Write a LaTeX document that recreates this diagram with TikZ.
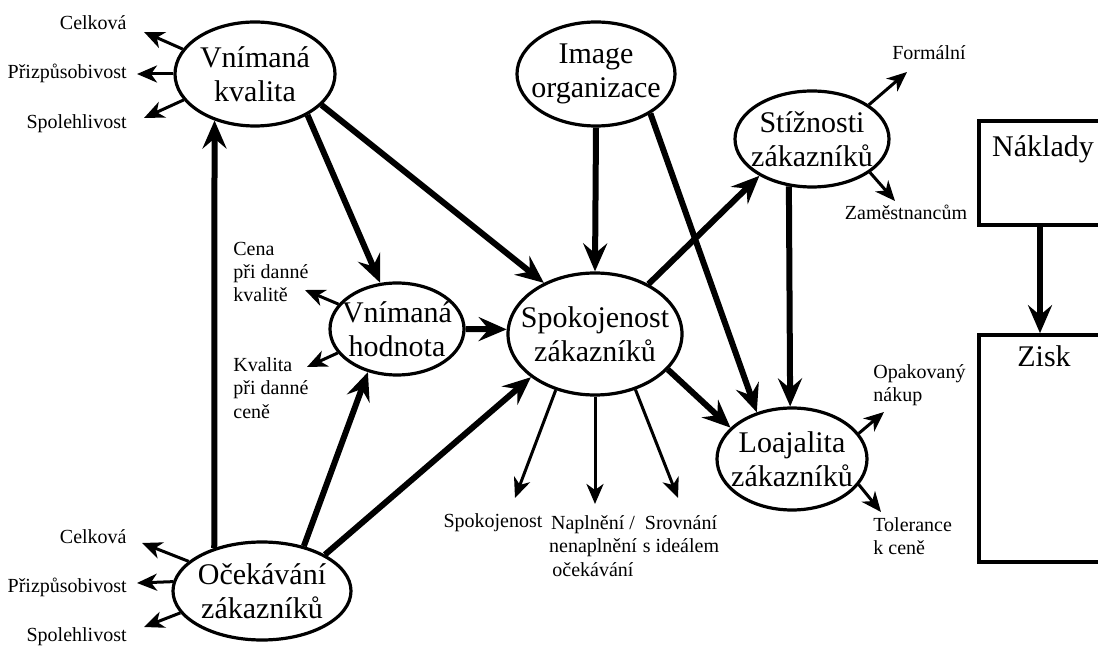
\documentclass[tikz,border=0pt]{standalone}
\usepackage{fontspec}
\setmainfont{Liberation Serif}
\usetikzlibrary{shapes.geometric,arrows.meta}
\tikzset{
  ell/.style={ellipse, draw, line width=1.6pt, align=center,
    font=\fontsize{15}{17}\selectfont, inner xsep=-12pt, inner ysep=-4pt},
  box/.style={rectangle, draw, line width=1.8pt, inner sep=0pt},
  bigtext/.style={font=\fontsize{15}{17}\selectfont, inner sep=0pt},
  small/.style={font=\fontsize{10}{11.6}\selectfont, inner sep=0pt},
  thickarr/.style={line width=3pt, -{Stealth[length=14pt,width=12pt,inset=5pt]}},
  thinarr/.style={line width=1.5pt, -{Stealth[length=10pt,width=8.5pt,inset=3pt]}}
}
\begin{document}
\begin{tikzpicture}[x=0.5pt,y=-0.5pt]
\useasboundingbox (0,0) rectangle (1098,646);

% ellipses
\node[ell, minimum width=80pt, minimum height=52pt] (VK) at (255,74) {Vnímaná\\kvalita};
\node[ell, minimum width=79pt, minimum height=52pt] (IO) at (596,74) {Image\\organizace};
\node[ell, minimum width=77pt, minimum height=48pt] (ST) at (812,139) {Stížnosti\\zákazníků};
\node[ell, minimum width=67pt, minimum height=46pt] (VH) at (397,329) {Vnímaná\\hodnota};
\node[ell, minimum width=87pt, minimum height=61pt] (SP) at (595,334) {Spokojenost\\zákazníků};
\node[ell, minimum width=75pt, minimum height=51pt] (LO) at (792,459) {Loajalita\\zákazníků};
\node[ell, minimum width=89pt, minimum height=49pt] (OC) at (262,591) {Očekávání\\zákazníků};

% boxes
\node[box, minimum width=61pt, minimum height=52pt] (NK) at (1040,173) {};
\node[box, minimum width=61pt, minimum height=113.5pt] (ZS) at (1040,448.5) {};
\node[bigtext, anchor=base] (NKt) at (1043,157) {Náklady};
\node[bigtext, anchor=base] (ZSt) at (1044,367) {Zisk};

% thick connectors
\draw[thickarr] (VK.-38) -- (VH.110);
\draw[thickarr] (VK.-25) -- (SP.135);
\draw[thickarr] (IO.south) -- (SP.north);
\draw[thickarr] (IO.-36) -- (LO.127);
\draw[thickarr] (VH.east) -- (SP.177);
\draw[thickarr] (OC.138.5) -- (VK.-131.6);
\draw[thickarr] (OC.47) -- (VH.-124);
\draw[thickarr] (OC.30) -- (SP.-146);
\draw[thickarr] (SP.43) -- (ST.-145);
\draw[thickarr] (SP.-26) -- (LO.153);
\draw[thickarr] (ST.-116.6) -- (LO.92.2);
\draw[thickarr] (NK.south) -- (ZS.north);

% free ends of thin arrows
\coordinate (k1) at (144,32);
\coordinate (k2) at (137,74);
\coordinate (k3) at (144,118);
\coordinate (o1) at (142,543);
\coordinate (o2) at (137,583);
\coordinate (o3) at (144,627);
\coordinate (h1) at (305,290);
\coordinate (h2) at (307,367);
\coordinate (s1) at (515,498);
\coordinate (s2) at (595,504);
\coordinate (s3) at (678,498);
\coordinate (t1) at (907,72);
\coordinate (t2) at (895,201);
\coordinate (l1) at (884,412);
\coordinate (l2) at (881,512);

% thin connectors
\draw[thinarr] (VK.161.6) -- (k1);
\draw[thinarr] (VK.180) -- (k2);
\draw[thinarr] (VK.-160.9) -- (k3);
\draw[thinarr] (OC.158.6) -- (o1);
\draw[thinarr] (OC.174.8) -- (o2);
\draw[thinarr] (OC.-165.3) -- (o3);
\draw[thinarr] (VH.157.2) -- (h1);
\draw[thinarr] (VH.-158.2) -- (h2);
\draw[thinarr] (SP.-125.1) -- (s1);
\draw[thinarr] (SP.-90) -- (s2);
\draw[thinarr] (SP.-54.9) -- (s3);
\draw[thinarr] (ST.31) -- (t1);
\draw[thinarr] (ST.-30) -- (t2);
\draw[thinarr] (LO.21.8) -- (l1);
\draw[thinarr] (LO.-21.8) -- (l2);

% labels
\node[small, anchor=east] (a1) at (127,23) {Celková};
\node[small, anchor=east] (a2) at (127,73) {Přizpůsobivost};
\node[small, anchor=east] (a3) at (127,124) {Spolehlivost};
\node[small, anchor=east] (b1) at (127,537) {Celková};
\node[small, anchor=east] (b2) at (127,587) {Přizpůsobivost};
\node[small, anchor=east] (b3) at (127,637) {Spolehlivost};
\node[small, anchor=west, align=left] (c1) at (233,272) {Cena\\při danné\\kvalitě};
\node[small, anchor=west, align=left] (c2) at (233,388) {Kvalita\\při danné\\ceně};
\node[small] (d1) at (493,523) {Spokojenost};
\node[small, align=center] (d2) at (593,546) {Naplnění /\\nenaplnění\\očekávání};
\node[small, align=center] (d3) at (681,534) {Srovnání\\s ideálem};
\node[small] (e1) at (929,53) {Formální};
\node[small] (e2) at (906,212) {Zaměstnancům};
\node[small, anchor=west, align=left] (f1) at (873,385) {Opakovaný\\nákup};
\node[small, anchor=west, align=left] (f2) at (873,536) {Tolerance\\k ceně};
\end{tikzpicture}
\end{document}
